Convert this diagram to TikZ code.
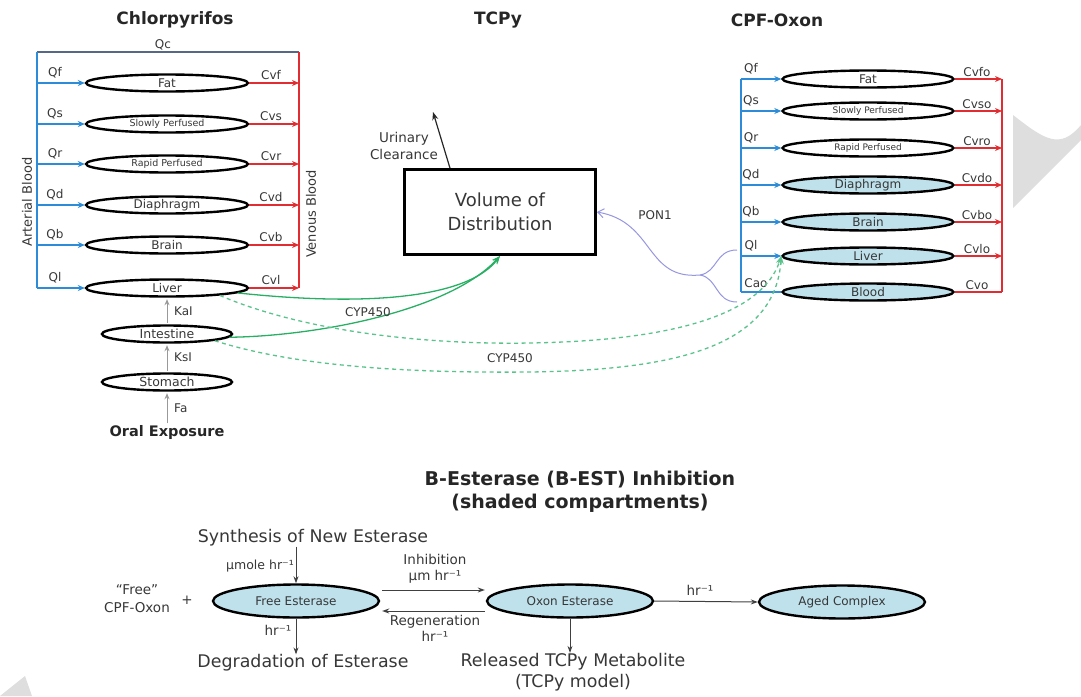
\documentclass[tikz,border=0pt]{standalone}
\usepackage{fontspec}
\setmainfont{DejaVu Sans}
\usetikzlibrary{arrows.meta,shapes.geometric,calc}
\definecolor{artblue}{RGB}{45,140,215}
\definecolor{venred}{RGB}{225,45,50}
\definecolor{topline}{RGB}{85,105,135}
\definecolor{shade}{RGB}{190,225,235}
\definecolor{grn}{RGB}{40,175,100}
\definecolor{grnd}{RGB}{90,195,140}
\definecolor{lav}{RGB}{150,150,225}
\definecolor{txt}{RGB}{55,55,55}
\definecolor{wmark}{RGB}{222,222,222}
\begin{document}
\begin{tikzpicture}[x=1pt,y=-1pt,
  every node/.style={text=txt},
  comp/.style={ellipse, draw=black, line width=2.4pt, inner sep=0pt, minimum height=17},
  lcomp/.style={comp, minimum width=162},
  rcomp/.style={comp, minimum width=171},
  lbl/.style={inner sep=0pt, font=\fontsize{12}{13}\selectfont},
  ttl/.style={inner sep=0pt, font=\fontsize{17}{19}\selectfont\bfseries, text=black!85},
  art/.style={artblue, line width=1.2pt, -{Stealth[length=7pt,width=6pt]}},
  ven/.style={venred, line width=1.2pt, -{Stealth[length=7pt,width=6pt]}},
  garr/.style={gray!80, line width=1pt, -{Stealth[length=6pt,width=5pt]}, shorten <=1.5pt, shorten >=1.5pt},
  gsol/.style={grn, line width=1.3pt, -{Stealth[length=8pt,width=6pt]}},
  gdash/.style={grnd, line width=1.3pt, dash pattern=on 4pt off 3.5pt, -{Stealth[length=8pt,width=6pt]}},
  barr/.style={black!75, line width=1pt, -{Stealth[length=7pt,width=5pt]}},
  bcomp/.style={ellipse, draw=black, line width=2.4pt, fill=shade, inner sep=0pt, minimum width=166, minimum height=33, font=\fontsize{12}{13}\selectfont},
  big/.style={inner sep=0pt, font=\fontsize{17.4}{21}\selectfont},
  mid/.style={inner sep=0pt, font=\fontsize{13.5}{16}\selectfont}
]
\useasboundingbox (0,0) rectangle (1081,696);
% watermark shapes
\fill[wmark] (1013,115) .. controls (1045,140) and (1060,150) .. (1081,125) -- (1081,140) -- (1013,208) -- cycle;
\fill[wmark] (0,696) -- (25,676) -- (32,696) -- cycle;

% titles
\node[ttl] (tchl) at (175,20) {Chlorpyrifos};
\node[ttl] (ttcpy) at (498,20) {TCPy};
\node[ttl] (toxon) at (777,20) {CPF-Oxon};

% ---------- left block ----------
\foreach \n/\t/\y/\q/\c/\fs in {lfat/Fat/83/Qf/Cvf/12, lslow/Slowly Perfused/124/Qs/Cvs/9.5, lrapid/Rapid Perfused/164/Qr/Cvr/9.5, ldia/Diaphragm/205/Qd/Cvd/12, lbrain/Brain/245/Qb/Cvb/12, lliver/Liver/288/Ql/Cvl/12}{
  \node[lcomp, font=\fontsize{\fs}{\fs}\selectfont] (\n) at (167,\y) {\t};
  \coordinate (\n-a) at (37,\y);
  \coordinate (\n-v) at (299,\y);
  \draw[art] (\n-a) -- (\n.west);
  \draw[ven] (\n.east) -- (\n-v);
  \node[lbl] at (55,\y-10) {\q};
  \node[lbl] at (271,\y-8) {\c};
}
\coordinate (ltl) at (37,52);
\coordinate (ltr) at (299,52);
\draw[topline, line width=1.2pt] (ltl) -- (ltr);
\draw[artblue, line width=1.2pt] (ltl) -- (lliver-a);
\draw[venred, line width=1.2pt] (ltr) -- (lliver-v);
\node[lbl] (qc) at (163,45) {Qc};
\node[lbl, font=\fontsize{13}{14}\selectfont, rotate=90] (artb) at (27,202) {Arterial Blood};
\node[lbl, font=\fontsize{13}{14}\selectfont, rotate=90] (venb) at (311,214) {Venous Blood};

\node[comp, minimum width=130, font=\fontsize{12.5}{13}\selectfont] (lint) at (167,334) {Intestine};
\node[comp, minimum width=130, font=\fontsize{12.5}{13}\selectfont] (lstom) at (167,382) {Stomach};
\node[inner sep=0pt, font=\fontsize{14.5}{16}\selectfont\bfseries, text=black!85] (oral) at (167,432) {Oral Exposure};
\draw[garr] (lstom.north) -- (lint.south);
\draw[garr] (lint.north) -- (lliver.south);
\draw[garr] (oral.north) -- (lstom.south);
\node[lbl, anchor=west] (kal) at (174,311) {KaI};
\node[lbl, anchor=west] (ksl) at (174,357) {KsI};
\node[lbl, anchor=west] (fa) at (174,408) {Fa};

% ---------- middle ----------
\node[draw=black, line width=3pt, minimum width=191, minimum height=85, inner sep=0pt, align=center, font=\fontsize{18}{24}\selectfont] (vod) at (500,212) {Volume of\\Distribution};
\coordinate (uc) at (433,112);
\draw[black!85, line width=1.2pt, -{Stealth[length=8pt,width=6pt]}] ($(vod.north west)!0.242!(vod.north east)$) -- (uc);
\node[lbl, align=center, font=\fontsize{13.5}{17}\selectfont] (ucl) at (404,146) {Urinary\\Clearance};

% ---------- right block ----------
\foreach \n/\t/\y/\q/\c/\fs/\fl in {rfat/Fat/79/Qf/Cvfo/12/white, rslow/Slowly Perfused/111/Qs/Cvso/9/white, rrapid/Rapid Perfused/148/Qr/Cvro/9/white, rdia/Diaphragm/185/Qd/Cvdo/12/shade, rbrain/Brain/222/Qb/Cvbo/12/shade, rliver/Liver/256/Ql/Cvlo/12/shade}{
  \node[rcomp, fill=\fl, font=\fontsize{\fs}{\fs}\selectfont] (\n) at (868,\y) {\t};
  \coordinate (\n-a) at (741,\y);
  \coordinate (\n-v) at (1002,\y);
  \draw[art] (\n-a) -- (\n.west);
  \draw[ven] (\n.east) -- (\n-v);
  \node[lbl] at (751,\y-10) {\q};
  \node[lbl] at (977,\y-7) {\c};
}
\node[rcomp, fill=shade, font=\fontsize{12}{13}\selectfont] (rblood) at (868,292) {Blood};
\coordinate (rblood-a) at (741,292);
\coordinate (rblood-v) at (1002,292);
\draw[artblue, line width=1.2pt] (rblood-a) -- (rblood.west);
\draw[venred, line width=1.2pt] (rblood.east) -- (rblood-v);
\node[lbl] at (756,283) {Cao};
\node[lbl] at (977,285) {Cvo};
\draw[artblue, line width=1.2pt] (rfat-a) -- (rblood-a);
\draw[venred, line width=1.2pt] (rfat-v) -- (rblood-v);

% ---------- green CYP450 connectors ----------
\draw[gsol] (lliver.-4) .. controls (380,308) and (470,295) .. (vod.south);
\draw[gsol] (lint.-3) .. controls (320,336) and (450,310) .. (vod.south);
\node[lbl] (cyp1) at (368,312) {CYP450};
\draw[gdash] (lliver.-8) .. controls (300,330) and (420,345) .. (530,343) .. controls (650,341) and (760,322) .. (rliver.west);
\draw[gdash] (lint.-8) .. controls (300,368) and (420,373) .. (530,372) .. controls (680,370) and (775,345) .. (rliver.west);
\node[lbl] (cyp2) at (510,358) {CYP450};

% ---------- PON1 ----------
\coordinate (bu) at (737,250);
\coordinate (bl) at (737,302);
\coordinate (bm) at (700,275);
\draw[lav, line width=1pt] (bu) .. controls (715,250) and (718,272) .. (bm);
\draw[lav, line width=1pt] (bl) .. controls (715,302) and (718,278) .. (bm);
\draw[lav, line width=1pt, -{Straight Barb[length=6pt,width=9pt]}] (bm) .. controls (645,280) and (655,222) .. (vod.east);
\node[lbl] (pon) at (655,215) {PON1};

% ---------- bottom: B-esterase ----------
\node[inner sep=0pt, align=center, font=\fontsize{19}{23}\selectfont\bfseries, text=black!85] (btit) at (580,492) {B-Esterase (B-EST) Inhibition\\(shaded compartments)};
\node[bcomp] (free) at (296,601) {Free Esterase};
\node[bcomp] (oxon) at (570,601) {Oxon Esterase};
\node[bcomp] (aged) at (842,602) {Aged Complex};
\node[big] (synth) at (313,538) {Synthesis of New Esterase};
\node[big] (degr) at (303,663) {Degradation of Esterase};
\node[big, align=center] (rel) at (573,672) {Released TCPy Metabolite\\(TCPy model)};
\node[mid, align=center, font=\fontsize{13.5}{18}\selectfont] (cpf) at (137,599) {“Free”\\CPF-Oxon};
\node[mid] (plus) at (187,600) {+};

\draw[barr] (synth.south -| free.north) -- (free.north);
\draw[barr] (free.south) -- (free.south |- degr.north);
\draw[barr] ($(free.east)+(2,-11)$) -- ($(oxon.west)+(-1,-11)$);
\draw[barr] ($(oxon.west)+(-1,10)$) -- ($(free.east)+(2,10)$);
\draw[barr] (oxon.east) -- (aged.west);
\draw[barr] (oxon.south) -- (oxon.south |- rel.north);

\node[mid, font=\fontsize{12.5}{14}\selectfont] (lum) at (260,566) {μmole hr⁻¹};
\node[mid] (lhr1) at (278,630) {hr⁻¹};
\node[mid, align=center] (linh) at (435,569) {Inhibition\\μm hr⁻¹};
\node[mid, align=center] (lreg) at (435,628) {Regeneration\\hr⁻¹};
\node[mid] (lhr2) at (700,590) {hr⁻¹};
\end{tikzpicture}
\end{document}
